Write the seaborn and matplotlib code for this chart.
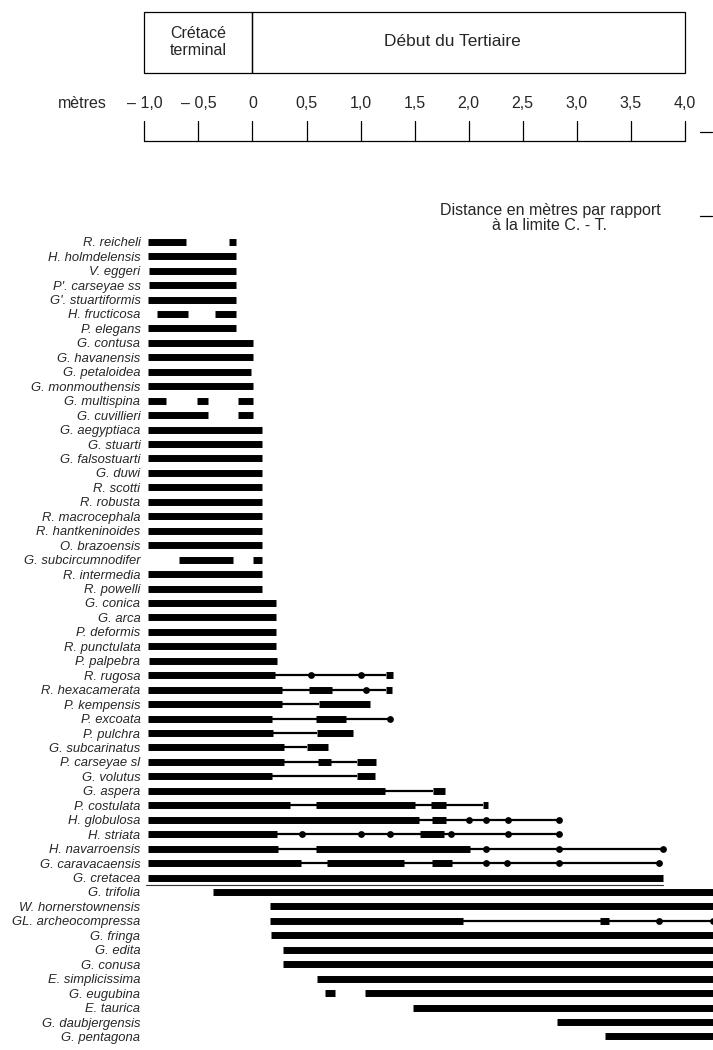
import numpy as np
import pandas as pd
import matplotlib
matplotlib.use('Agg')
import matplotlib.pyplot as plt
from matplotlib.patches import Rectangle
import seaborn as sns

sns.set_theme(style='white')
plt.rcParams['font.family'] = ['Liberation Sans', 'DejaVu Sans']

# species, top to bottom
species = [
    'R. reicheli', 'H. holmdelensis', 'V. eggeri', "P'. carseyae ss", "G'. stuartiformis",
    'H. fructicosa', 'P. elegans', 'G. contusa', 'G. havanensis', 'G. petaloidea',
    'G. monmouthensis', 'G. multispina', 'G. cuvillieri', 'G. aegyptiaca', 'G. stuarti',
    'G. falsostuarti', 'G. duwi', 'R. scotti', 'R. robusta', 'R. macrocephala',
    'R. hantkeninoides', 'O. brazoensis', 'G. subcircumnodifer', 'R. intermedia', 'R. powelli',
    'G. conica', 'G. arca', 'P. deformis', 'R. punctulata', 'P. palpebra',
    'R. rugosa', 'R. hexacamerata', 'P. kempensis', 'P. excoata', 'P. pulchra',
    'G. subcarinatus', 'P. carseyae sl', 'G. volutus', 'G. aspera', 'P. costulata',
    'H. globulosa', 'H. striata', 'H. navarroensis', 'G. caravacaensis', 'G. cretacea',
    'G. trifolia', 'W. hornerstownensis', 'GL. archeocompressa', 'G. fringa', 'G. edita',
    'G. conusa', 'E. simplicissima', 'G. eugubina', 'E. taurica', 'G. daubjergensis',
    'G. pentagona',
]

# continuous occurrence (thick bar), metres relative to the K-T boundary
thick = [
    [(-0.97, -0.62), (-0.22, -0.15)], [(-0.97, -0.15)], [(-0.96, -0.15)], [(-0.96, -0.15)],
    [(-0.97, -0.15)], [(-0.88, -0.60), (-0.35, -0.15)], [(-0.97, -0.15)],
    [(-0.97, 0.0)], [(-0.97, 0.0)], [(-0.97, -0.01)], [(-0.97, 0.0)],
    [(-0.97, -0.80), (-0.51, -0.41), (-0.13, 0.0)], [(-0.97, -0.41), (-0.13, 0.0)],
    [(-0.97, 0.09)], [(-0.97, 0.09)], [(-0.97, 0.09)], [(-0.97, 0.09)], [(-0.97, 0.09)],
    [(-0.97, 0.09)], [(-0.97, 0.09)], [(-0.97, 0.09)], [(-0.97, 0.09)],
    [(-0.68, -0.18), (0.0, 0.09)], [(-0.97, 0.09)], [(-0.97, 0.09)],
    [(-0.97, 0.22)], [(-0.97, 0.22)], [(-0.97, 0.22)], [(-0.97, 0.22)], [(-0.96, 0.23)],
    [(-0.97, 0.21), (1.24, 1.30)],
    [(-0.97, 0.27), (0.52, 0.74), (1.24, 1.29)],
    [(-0.97, 0.27), (0.62, 1.09)],
    [(-0.97, 0.18), (0.59, 0.87)],
    [(-0.97, 0.19), (0.60, 0.93)],
    [(-0.97, 0.29), (0.50, 0.70)],
    [(-0.97, 0.29), (0.61, 0.73), (0.97, 1.14)],
    [(-0.97, 0.18), (0.97, 1.13)],
    [(-0.97, 1.23), (1.67, 1.78)],
    [(-0.97, 0.35), (0.59, 1.50), (1.65, 1.79), (2.13, 2.18)],
    [(-0.97, 1.54), (1.66, 1.79)],
    [(-0.97, 0.23), (1.55, 1.77)],
    [(-0.97, 0.24), (0.59, 2.01)],
    [(-0.97, 0.45), (0.69, 1.40), (1.66, 1.85)],
    [(-0.97, 3.80)],
    [(-0.37, 4.4)], [(0.165, 4.4)], [(0.165, 1.95), (3.22, 3.30)], [(0.17, 4.4)],
    [(0.28, 4.4)], [(0.28, 4.4)], [(0.60, 4.4)], [(0.67, 0.76), (1.04, 4.4)],
    [(1.49, 4.4)], [(2.82, 4.4)], [(3.26, 4.4)],
]

# sporadic occurrence (thin line), by row index
thin = {
    30: (0.21, 1.24), 31: (0.27, 1.24), 32: (0.27, 0.62), 33: (0.18, 1.27),
    34: (0.19, 0.60), 35: (0.29, 0.50), 36: (0.29, 0.97), 37: (0.18, 0.97),
    38: (1.23, 1.67), 39: (0.35, 2.13), 40: (1.54, 2.84), 41: (0.23, 2.84),
    42: (0.24, 3.80), 43: (0.45, 3.76), 47: (1.95, 4.4),
}

# single finds (dots), by row index
dots = {
    30: [0.54, 1.00], 31: [1.05], 33: [1.27],
    40: [2.00, 2.16, 2.37, 2.84],
    41: [0.46, 1.00, 1.27, 1.84, 2.37, 2.84],
    42: [2.16, 2.84, 3.80],
    43: [2.16, 2.36, 2.84, 3.76],
    47: [3.76, 4.26],
}

tick_values = [-1.0, -0.5, 0.0, 0.5, 1.0, 1.5, 2.0, 2.5, 3.0, 3.5, 4.0]
tick_labels = ['\u2013 1,0', '\u2013 0,5', '0', '0,5', '1,0', '1,5', '2,0', '2,5', '3,0', '3,5', '4,0']
periods = ['Crétacé\nterminal', 'Début du Tertiaire']
period_bounds = [(-1.0, 0.0), (0.0, 4.0)]

# long-form tables for seaborn
rows = []
for i, segs in enumerate(thick):
    for j, (a, b) in enumerate(segs):
        rows += [(a, i, f'{i}-{j}'), (b, i, f'{i}-{j}')]
thick_df = pd.DataFrame(rows, columns=['x', 'row', 'seg'])
thin_df = pd.DataFrame([(v, i, str(i)) for i, ab in thin.items() for v in ab],
                       columns=['x', 'row', 'seg'])
dot_df = pd.DataFrame([(v, i) for i, xs in dots.items() for v in xs], columns=['x', 'row'])

W, H, DPI = 713, 1050, 100
PX0, PXM = 252.5, 108.0          # pixel of 0 m, pixels per metre
ROW0, ROWH = 241.7, 14.45        # pixel of first row, row pitch

def m(px):
    return (px - PX0) / PXM

fig = plt.figure(figsize=(W / DPI, H / DPI), dpi=DPI)

# ---- header (time scale) ----
hx = fig.add_axes([0, 0, 1, 1])
hx.set_xlim(m(0), m(W))
hx.set_ylim(H, 0)
hx.axis('off')
for (a, b), name in zip(period_bounds, periods):
    hx.add_patch(Rectangle((a, 12), b - a, 61, fill=False, lw=0.9, ec='black'))
    cx = (a + b) / 2 if a < 0 else 1.85
    hx.text(cx, 42, name, ha='center', va='center', fontsize=11.5 if a < 0 else 12.5,
            linespacing=1.1)
hx.text(m(82), 103, 'mètres', ha='center', va='center', fontsize=11.5)
for v, lab in zip(tick_values, tick_labels):
    hx.text(v, 103, lab, ha='center', va='center', fontsize=11.5)
    hx.plot([v, v], [121, 141], color='black', lw=0.9)
hx.plot([tick_values[0], tick_values[-1]], [141, 141], color='black', lw=0.9)
hx.plot([m(700), m(712)], [132, 132], color='black', lw=0.9)
hx.text(m(550), 218, 'Distance en mètres par rapport\nà la limite C. - T.',
        ha='center', va='center', fontsize=11.5, linespacing=1.0)
hx.plot([m(700), m(712)], [216, 216], color='black', lw=0.9)

# ---- range chart ----
left_px, top_px = 146, 232
ax = fig.add_axes([left_px / W, 0, 1 - left_px / W, 1 - top_px / H])
sns.lineplot(data=thin_df, x='x', y='row', units='seg', estimator=None, sort=False,
             color='black', lw=1.6, solid_capstyle='butt', legend=False, ax=ax)
sns.lineplot(data=thick_df, x='x', y='row', units='seg', estimator=None, sort=False,
             color='black', lw=5.0, solid_capstyle='butt', legend=False, ax=ax)
sns.scatterplot(data=dot_df, x='x', y='row', color='black', s=24, marker='o',
                linewidth=0, legend=False, ax=ax)
ax.plot([-0.99, 3.80], [44.55, 44.55], color='#333333', lw=0.8)

ax.set_xlim(m(left_px), m(W))
ax.set_ylim((H - ROW0) / ROWH, (top_px - ROW0) / ROWH)
ax.set_yticks(range(len(species)))
ax.set_yticklabels(species, fontstyle='italic', fontsize=9.4)
ax.tick_params(axis='y', length=0, pad=4)
ax.set_xticks([])
ax.set_xlabel('')
ax.set_ylabel('')
for s in ax.spines.values():
    s.set_visible(False)
ax.patch.set_alpha(0)

fig.savefig('out.png', dpi=DPI)
